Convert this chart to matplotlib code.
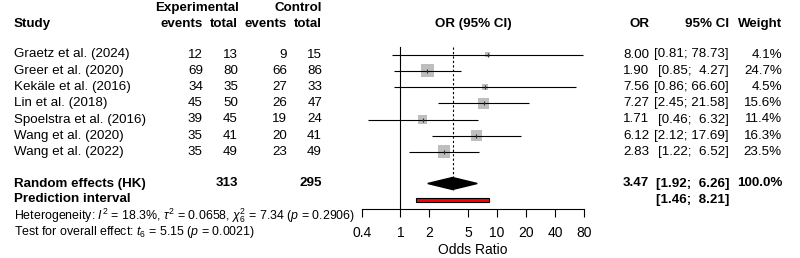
import numpy as np
import matplotlib
matplotlib.use("Agg")
import matplotlib.pyplot as plt
from matplotlib.patches import Polygon, Rectangle

plt.rcParams['font.family'] = ['Liberation Sans', 'DejaVu Sans']
plt.rcParams['mathtext.fontset'] = 'custom'
plt.rcParams['mathtext.rm'] = 'Liberation Sans'
plt.rcParams['mathtext.it'] = 'Liberation Sans:italic'
plt.rcParams['mathtext.bf'] = 'Liberation Sans:bold'

# study data
studies = ["Graetz et al. (2024)", "Greer et al. (2020)", "Kekäle et al. (2016)",
           "Lin et al. (2018)", "Spoelstra et al. (2016)", "Wang et al. (2020)",
           "Wang et al. (2022)"]
exp_events = [12, 69, 34, 45, 39, 35, 35]
exp_total = [13, 80, 35, 50, 45, 41, 49]
ctrl_events = [9, 66, 27, 26, 19, 20, 23]
ctrl_total = [15, 86, 33, 47, 24, 41, 49]
or_vals = [8.00, 1.90, 7.56, 7.27, 1.71, 6.12, 2.83]
ci_low = [0.81, 0.85, 0.86, 2.45, 0.46, 2.12, 1.22]
ci_high = [78.73, 4.27, 66.60, 21.58, 6.32, 17.69, 6.52]
weights = [4.1, 24.7, 4.5, 15.6, 11.4, 16.3, 23.5]

# pooled estimate and prediction interval
pooled = [3.47, 1.92, 6.26]
pred_int = [1.46, 8.21]
sum_exp, sum_ctrl = 313, 295

ticks = [0.4, 1, 2, 5, 10, 20, 40, 80]

W, H = 800, 258
fig = plt.figure(figsize=(W / 100, H / 100), dpi=100)

# text layer in pixel coordinates
ax_t = fig.add_axes([0, 0, 1, 1])
ax_t.set_xlim(0, W)
ax_t.set_ylim(H, 0)
ax_t.axis("off")

fs = 9.6
row_y = [54.5, 70.8, 87.0, 103.3, 119.5, 135.7, 151.8]
y_re, y_pi = 183.5, 199.5

def put(x, y, s, ha="right", bold=False, size=fs):
    ax_t.text(x, y, s, ha=ha, va="center", fontsize=size,
              fontweight="bold" if bold else "normal")

# headers
put(197, 8, "Experimental", ha="center", bold=True)
put(322, 8, "Control", bold=True)
put(14, 24, "Study", ha="left", bold=True)
for x, lab in [(203, "events"), (238, "total"), (287, "events"), (322, "total")]:
    put(x, 24, lab, bold=True)
put(473, 24, "OR (95% CI)", ha="center", bold=True)
put(649, 24, "OR", bold=True)
put(729, 24, "95% CI", bold=True)
put(782, 24, "Weight", bold=True)

for i, y in enumerate(row_y):
    put(14, y, studies[i], ha="left")
    put(203, y, str(exp_events[i]))
    put(238, y, str(exp_total[i]))
    put(287, y, str(ctrl_events[i]))
    put(322, y, str(ctrl_total[i]))
    put(649, y, f"{or_vals[i]:.2f}")
    put(729, y, f"[{ci_low[i]:.2f}; {ci_high[i]:5.2f}]")
    put(782, y, f"{weights[i]:.1f}%")

put(14, y_re, "Random effects (HK)", ha="left", bold=True)
put(238, y_re, str(sum_exp), bold=True)
put(322, y_re, str(sum_ctrl), bold=True)
put(649, y_re, f"{pooled[0]:.2f}", bold=True)
put(729, y_re, f"[{pooled[1]:.2f}; {pooled[2]:5.2f}]", bold=True)
put(782, y_re, "100.0%", bold=True)
put(14, y_pi, "Prediction interval", ha="left", bold=True)
put(729, y_pi, f"[{pred_int[0]:.2f}; {pred_int[1]:5.2f}]", bold=True)

put(14, 215.5, r"Heterogeneity: $I^2$ = 18.3%, $\tau^2$ = 0.0658, $\chi^2_6$ = 7.34 ($p$ = 0.2906)",
    ha="left", size=8.9)
put(14, 232, r"Test for overall effect: $t_6$ = 5.15 ($p$ = 0.0021)", ha="left", size=8.9)

# forest panel (log scale)
x0, x1, ytop, ybot = 362, 584, 40, 209
ax = fig.add_axes([x0 / W, (H - ybot) / H, (x1 - x0) / W, (ybot - ytop) / H])
ax.set_xscale("log")
ax.set_xlim(0.4, 80)
ax.set_ylim(ybot, ytop)
ax.patch.set_alpha(0)
for s in ["top", "right", "left"]:
    ax.spines[s].set_visible(False)
ax.spines["bottom"].set_linewidth(0.8)
ax.set_yticks([])
ax.set_xticks(ticks)
ax.set_xticklabels([str(t) for t in ticks])
ax.minorticks_off()
ax.tick_params(axis="x", length=5.5, width=0.8, pad=7, labelsize=10)
ax.set_xlabel("Odds Ratio", fontsize=10, labelpad=2)

ax.plot([1, 1], [47, ybot], color="black", lw=0.8)
ax.plot([pooled[0], pooled[0]], [47, 190], color="black", lw=0.8, ls=(0, (2, 2)))

w = np.array(weights)
sizes = 90 * w / w.max()
ax.scatter(or_vals, row_y, marker="s", s=sizes, color="#BEBEBE", zorder=2, linewidths=0)
ax.hlines(row_y, ci_low, ci_high, color="black", lw=0.8, zorder=3)
ax.scatter(or_vals, row_y, marker="|", s=12, color="#333333", linewidths=0.8, zorder=4)

dh = 6
ax.add_patch(Polygon([(pooled[1], y_re), (pooled[0], y_re - dh), (pooled[2], y_re),
                      (pooled[0], y_re + dh)], closed=True, color="black", zorder=3))
ax.add_patch(Rectangle((pred_int[0], y_pi - 2), pred_int[1] - pred_int[0], 4,
                       facecolor="red", edgecolor="black", lw=0.8, zorder=3))

fig.savefig("out.png", dpi=100)
